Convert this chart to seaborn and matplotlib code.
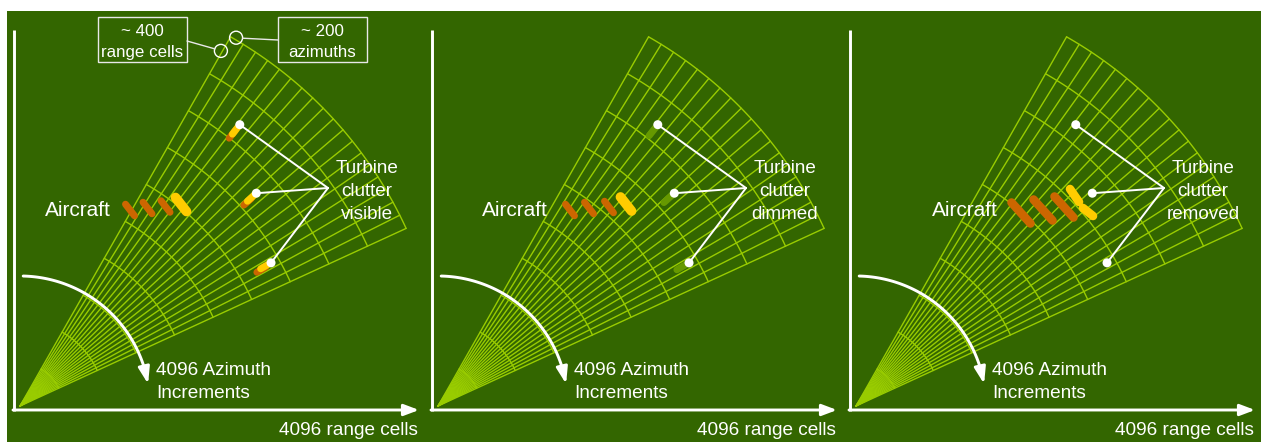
import numpy as np
import pandas as pd
import matplotlib
matplotlib.use("Agg")
import matplotlib.pyplot as plt
import seaborn as sns
from matplotlib.patches import Rectangle, Circle

# ---------------- data ----------------
panel_labels = ["visible", "dimmed", "removed"]
fan_start_deg = 24.7
fan_end_deg = 60.3
n_azimuth_div = 18
fan_radius = 425.0
n_range_rings = 10

# turbine clutter (range px, azimuth deg) – same place in every panel
turbine_range = [357.0, 318.0, 289.0]
turbine_az = [52.0, 42.0, 29.7]

# aircraft returns: centre (x, y) relative to antenna, per panel
aircraft_x = {
    0: [110.0, 127.5, 145.5, 161.0],
    1: [132.0, 151.0, 171.0, 188.0],
    2: [165.0, 187.0, 208.0],
}
aircraft_y = {
    0: [196.0, 198.0, 199.5, 201.5],
    1: [196.0, 198.0, 199.0, 202.0],
    2: [193.0, 196.0, 199.0],
}
aircraft_kind = {0: ["o", "o", "o", "y"], 1: ["o", "o", "o", "y"], 2: ["o", "o", "o"]}
# split yellow return in the "removed" panel (two segments, x/y pairs)
removed_yellow_x = [[214.0, 223.0], [227.0, 237.0]]
removed_yellow_y = [[217.0, 204.0], [198.0, 190.0]]

aircraft_text_x = [25, 44, 76]
azimuth_label = ["4096 Azimuth", "Increments"]
range_label = "4096 range cells"
box_labels = [["~ 400", "range cells"], ["~ 200", "azimuths"]]
callout_r = [408.0, 427.0]
callout_az = [60.5, 59.6]

# ---------------- style ----------------
BG = "#336600"
GRID = "#99CC00"
ORANGE = "#CC6600"
YELLOW = "#FFCC00"
DIM = "#669900"
WHITE = "#FFFFFF"

sns.set_theme(style="white")
plt.rcParams["font.family"] = ["Liberation Sans", "DejaVu Sans"]

W, H = 1261, 442
fig = plt.figure(figsize=(W / 100, H / 100), dpi=100)
fig.patch.set_facecolor("white")
ax = fig.add_axes([7 / W, 0, (W - 7) / W, (H - 11) / H])
ax.set_facecolor(BG)

apex_x = [20.0, 438.0, 856.0]
apex_y = 406.0


def px(p, dx, dy):
    return apex_x[p] + np.asarray(dx), apex_y - np.asarray(dy)


def polar(p, r, th_deg):
    t = np.deg2rad(th_deg)
    return px(p, np.asarray(r) * np.cos(t), np.asarray(r) * np.sin(t))


def capsule(x, y, lw, color, z=4):
    ax.plot(x, y, lw=lw, color=color, solid_capstyle="round", zorder=z)


for p in range(3):
    # ---- fan grid via seaborn ----
    rows = []
    seg = 0
    for th in np.linspace(fan_start_deg, fan_end_deg, n_azimuth_div + 1):
        xs, ys = polar(p, [0, fan_radius], [th, th])
        for a, b in zip(xs, ys):
            rows.append((a, b, seg))
        seg += 1
    for k in range(1, n_range_rings + 1):
        rr = fan_radius * k / n_range_rings
        ths = np.linspace(fan_start_deg, fan_end_deg, 60)
        xs, ys = polar(p, rr * np.ones_like(ths), ths)
        for a, b in zip(xs, ys):
            rows.append((a, b, seg))
        seg += 1
    df = pd.DataFrame(rows, columns=["x", "y", "seg"])
    sns.lineplot(data=df, x="x", y="y", units="seg", estimator=None, sort=False,
                 color=GRID, lw=1.0, ax=ax, legend=False, zorder=2)

    # ---- axes lines ----
    ax.plot([apex_x[p] - 6, apex_x[p] - 6], [30, 411], color=WHITE, lw=2.1,
            solid_capstyle="butt", zorder=6)
    ax.annotate("", xy=(apex_x[p] + 399, 410), xytext=(apex_x[p] - 7, 410),
                arrowprops=dict(arrowstyle="-|>,head_length=0.45,head_width=0.17",
                                color=WHITE, lw=2.1, mutation_scale=20,
                                shrinkA=0, shrinkB=0), zorder=6)
    ax.text(apex_x[p] + 398, 435, range_label, color=WHITE, fontsize=13.7,
            ha="right", va="baseline")

    # ---- curved azimuth arrow ----
    ths = np.linspace(88.6, 17.0, 80)
    xs, ys = polar(p, 130 * np.ones_like(ths), ths)
    ax.plot(xs, ys, color=WHITE, lw=2.1, zorder=6)
    x0, y0 = polar(p, 130, 17.0)
    x1, y1 = polar(p, 130, 9.8)
    ax.annotate("", xy=(x1, y1), xytext=(x0, y0),
                arrowprops=dict(arrowstyle="-|>,head_length=0.5,head_width=0.17",
                                color=WHITE, lw=2.1, mutation_scale=20,
                                shrinkA=0, shrinkB=0), zorder=6)
    ax.text(apex_x[p] + 136, 375, azimuth_label[0], color=WHITE, fontsize=13.7,
            ha="left", va="baseline")
    ax.text(apex_x[p] + 136, 397.5, azimuth_label[1], color=WHITE, fontsize=13.7,
            ha="left", va="baseline")

    # ---- aircraft ----
    for cx, cy, kd in zip(aircraft_x[p], aircraft_y[p], aircraft_kind[p]):
        if p == 2:
            sx, sy, lw = 9.5, 10.5, 6.2
        elif kd == "y":
            sx, sy, lw = 5.5, 7.0, 7.0
        else:
            sx, sy, lw = 4.5, 5.8, 5.0
        X, Y = px(p, [cx - sx, cx + sx], [cy + sy, cy - sy])
        capsule(X, Y, lw, YELLOW if kd == "y" else ORANGE)
    if p == 2:
        for sxs, sys_ in zip(removed_yellow_x, removed_yellow_y):
            X, Y = px(p, sxs, sys_)
            capsule(X, Y, 6.2, YELLOW)
    ax.text(apex_x[p] + aircraft_text_x[p], 216, "Aircraft", color=WHITE,
            fontsize=15, ha="left", va="baseline")

    # ---- turbine clutter ----
    hub = px(p, 308, 218)
    for r, th in zip(turbine_range, turbine_az):
        if p == 0:
            X, Y = polar(p, [r - 4, r - 14], [th, th])
            capsule(X - 2.0, Y + 2.5, 5.0, ORANGE)
            X, Y = polar(p, [r - 2, r - 12], [th, th])
            capsule(X, Y, 5.0, YELLOW)
        elif p == 1:
            X, Y = polar(p, [r - 2, r - 14], [th, th])
            capsule(X, Y, 5.0, DIM)
        dx_, dy_ = polar(p, r, th)
        ax.plot([dx_, hub[0]], [dy_, hub[1]], color=WHITE, lw=1.4, zorder=5)
    dxs, dys = polar(p, np.array(turbine_range), np.array(turbine_az))
    sns.scatterplot(x=dxs, y=dys, s=42, color=WHITE, edgecolor="none", ax=ax,
                    zorder=7, legend=False)
    for i, line in enumerate(["Turbine", "clutter", panel_labels[p]]):
        ax.text(apex_x[p] + 347, 173 + 23 * i, line, color=WHITE, fontsize=13.6,
                ha="center", va="baseline")

# ---- call-out boxes (first panel) ----
boxes = [(98, 17, 89, 45), (278, 17, 89, 45)]
for (bx, by, bw, bh), lbl in zip(boxes, box_labels):
    ax.add_patch(Rectangle((bx, by), bw, bh, fill=False, ec="#E8E8E8", lw=1.0, zorder=6))
    ax.text(bx + bw / 2, 36, lbl[0], color=WHITE, fontsize=12.2, ha="center", va="baseline")
    ax.text(bx + bw / 2, 57, lbl[1], color=WHITE, fontsize=12.2, ha="center", va="baseline")
cx1, cy1 = polar(0, callout_r[0], callout_az[0])
cx2, cy2 = polar(0, callout_r[1], callout_az[1])
for cx, cy in [(cx1, cy1), (cx2, cy2)]:
    ax.add_patch(Circle((cx, cy), 6.5, fill=False, ec=WHITE, lw=1.0, zorder=6))
ax.plot([187, cx1 - 6], [41, cy1 - 2], color="#E8E8E8", lw=1.0, zorder=6)
ax.plot([278, cx2 + 6.5], [40, cy2 + 0.5], color="#E8E8E8", lw=1.0, zorder=6)

ax.set_xlim(7, W)
ax.set_ylim(H, 11)
ax.set_xticks([])
ax.set_yticks([])
ax.set_xlabel("")
ax.set_ylabel("")
for s in ax.spines.values():
    s.set_visible(False)

fig.savefig("out.png", dpi=100, facecolor="white")
